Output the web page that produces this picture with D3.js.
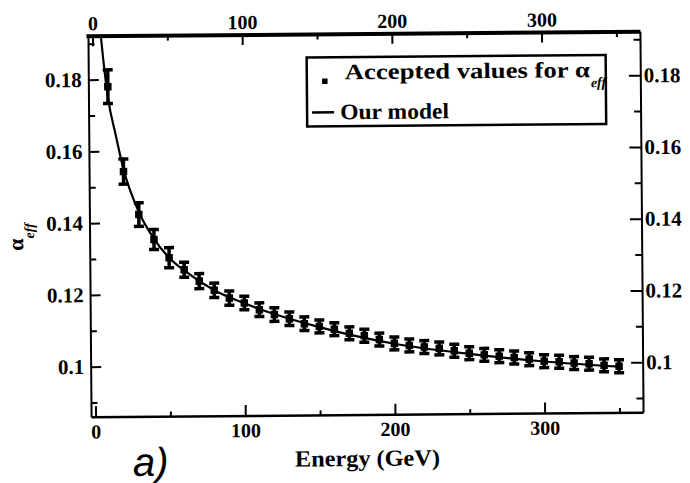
<!DOCTYPE html>
<html>
<head>
<meta charset="utf-8">
<script src="https://cdn.jsdelivr.net/npm/d3@7"></script>
<style>
  body { margin: 0; background: #fff; }
  svg { display: block; }
  .axis line { stroke: #000; stroke-width: 2; }
  .axis path { display: none; }
</style>
</head>
<body>
<script>
// accepted values of alpha_eff
var energy = [10, 20, 30, 40, 50, 60, 70, 80, 90, 100, 110, 120, 130, 140, 150, 160, 170, 180,
              190, 200, 210, 220, 230, 240, 250, 260, 270, 280, 290, 300, 310, 320, 330, 340, 350];
var alphaEff = [0.1780, 0.1543, 0.1423, 0.1353, 0.1302, 0.1268, 0.1236, 0.1210, 0.1188, 0.1174,
                0.1155, 0.1141, 0.1129, 0.1115, 0.1107, 0.1099, 0.1087, 0.1080, 0.1069, 0.1058,
                0.1052, 0.1047, 0.1043, 0.1036, 0.1029, 0.1024, 0.1020, 0.1016, 0.1011, 0.1005,
                0.1003, 0.0999, 0.0997, 0.0992, 0.0989];
var alphaErr = [0.0047, 0.0035, 0.0033, 0.0028, 0.0028, 0.0021, 0.0021, 0.0020, 0.0020, 0.0019,
                0.0019, 0.0019, 0.0019, 0.0019, 0.0018, 0.0018, 0.0018, 0.0018, 0.0018, 0.0018,
                0.0018, 0.0018, 0.0018, 0.0018, 0.0018, 0.0018, 0.0018, 0.0018, 0.0018, 0.0018,
                0.0018, 0.0018, 0.0018, 0.0018, 0.0018];

// model curve
var modelEnergy = [5.5, 7, 10, 15, 20, 30, 40, 50, 60, 80, 100, 150, 200, 250, 300, 350];
var modelAlpha = [0.1925, 0.1860, 0.1750, 0.1645, 0.1550, 0.1430, 0.1355, 0.1302, 0.1266, 0.1210,
                  0.1173, 0.1105, 0.1057, 0.1027, 0.1004, 0.0988];

var xTicks = [0, 100, 200, 300];
var xMinor = [50, 150, 250, 350];
var yTicks = [0.1, 0.12, 0.14, 0.16, 0.18];
var yMinor = [0.09, 0.11, 0.13, 0.15, 0.17, 0.19];

var serif = "'Liberation Serif', 'Times New Roman', serif";

var margin = {top: 34, right: 48, bottom: 68, left: 90},
    width = 690 - margin.left - margin.right,
    height = 483 - margin.top - margin.bottom;

var svg = d3.select("body").append("svg")
    .attr("width", 690)
    .attr("height", 483);

// the scan is slightly tilted
var page = svg.append("g")
    .attr("transform", "rotate(-0.47 366 224)");

var g = page.append("g")
    .attr("transform", "translate(" + margin.left + "," + margin.top + ")");

var x = d3.scaleLinear().domain([-2.67, 366.1]).range([0, width]);
var y = d3.scaleLinear().domain([0.0859, 0.1921]).range([height, 0]);

g.append("clipPath").attr("id", "clip")
  .append("rect").attr("width", width).attr("height", height);

// axes, ticks pointing inward
function styleAxis(sel, size) {
  sel.selectAll("text")
      .style("font-family", serif)
      .style("font-weight", "bold")
      .style("font-size", size + "px")
      .style("fill", "#000");
}
g.append("g").attr("class", "axis")
    .attr("transform", "translate(0," + height + ")")
    .call(d3.axisBottom(x).tickValues(xTicks).tickSize(-11).tickPadding(7).tickFormat(d3.format("d")))
    .call(styleAxis, 20);
g.append("g").attr("class", "axis")
    .attr("transform", "translate(0," + height + ")")
    .call(d3.axisBottom(x).tickValues(xMinor).tickSize(-5).tickFormat(""));
g.append("g").attr("class", "axis")
    .call(d3.axisTop(x).tickValues(xTicks).tickSize(-10).tickPadding(6).tickFormat(d3.format("d")))
    .call(styleAxis, 20);
g.append("g").attr("class", "axis")
    .call(d3.axisTop(x).tickValues(xMinor).tickSize(-5).tickFormat(""));
g.append("g").attr("class", "axis")
    .call(d3.axisLeft(y).tickValues(yTicks).tickSize(-10).tickPadding(7).tickFormat(function(d) { return String(d); }))
    .call(styleAxis, 21);
g.append("g").attr("class", "axis")
    .call(d3.axisLeft(y).tickValues(yMinor).tickSize(-6).tickFormat(""));
g.append("g").attr("class", "axis")
    .attr("transform", "translate(" + width + ",0)")
    .call(d3.axisRight(y).tickValues(yTicks).tickSize(-12).tickPadding(3).tickFormat(function(d) { return String(d); }))
    .call(styleAxis, 21);
g.append("g").attr("class", "axis")
    .attr("transform", "translate(" + width + ",0)")
    .call(d3.axisRight(y).tickValues(yMinor).tickSize(-7).tickFormat(""));

// frame
g.append("line").attr("x1", 0).attr("x2", width).attr("y1", height).attr("y2", height)
    .attr("stroke", "#000").attr("stroke-width", 2.5);
g.append("line").attr("x1", 0).attr("x2", 0).attr("y1", 0).attr("y2", height)
    .attr("stroke", "#000").attr("stroke-width", 2);
g.append("line").attr("x1", width).attr("x2", width).attr("y1", 0).attr("y2", height)
    .attr("stroke", "#000").attr("stroke-width", 2);
g.append("line").attr("x1", -2).attr("x2", width).attr("y1", 0).attr("y2", 0)
    .attr("stroke", "#000").attr("stroke-width", 4);

// model line
var modelData = modelEnergy.map(function(e, i) { return {e: e, v: modelAlpha[i]}; });
g.append("path")
    .datum(modelData)
    .attr("clip-path", "url(#clip)")
    .attr("fill", "none")
    .attr("stroke", "#000")
    .attr("stroke-width", 2.2)
    .attr("d", d3.line()
        .curve(d3.curveMonotoneX)
        .x(function(d) { return x(d.e); })
        .y(function(d) { return y(d.v); }));

// data points with error bars
var pts = energy.map(function(e, i) { return {e: e, v: alphaEff[i], err: alphaErr[i]}; });
var pt = g.append("g").selectAll(".pt")
    .data(pts)
  .enter().append("g")
    .attr("class", "pt");
pt.append("line")
    .attr("x1", function(d) { return x(d.e); })
    .attr("x2", function(d) { return x(d.e); })
    .attr("y1", function(d) { return y(d.v - d.err); })
    .attr("y2", function(d) { return y(d.v + d.err); })
    .attr("stroke", "#000").attr("stroke-width", 3.5);
[-1, 1].forEach(function(s) {
  pt.append("line")
      .attr("x1", function(d) { return x(d.e) - 5; })
      .attr("x2", function(d) { return x(d.e) + 5; })
      .attr("y1", function(d) { return y(d.v + s * d.err); })
      .attr("y2", function(d) { return y(d.v + s * d.err); })
      .attr("stroke", "#000").attr("stroke-width", 3.5);
});
pt.append("path")
    .attr("transform", function(d) { return "translate(" + x(d.e) + "," + y(d.v) + ")"; })
    .attr("d", d3.symbol().type(d3.symbolSquare).size(56))
    .attr("fill", "#000");

// legend
var legend = page.append("g");
legend.append("rect")
    .attr("x", 308).attr("y", 57).attr("width", 299).attr("height", 69)
    .attr("fill", "#fff").attr("stroke", "#000").attr("stroke-width", 2.5);
legend.append("path")
    .attr("transform", "translate(326,81)")
    .attr("d", d3.symbol().type(d3.symbolSquare).size(30))
    .attr("fill", "#000");
legend.append("line")
    .attr("x1", 313).attr("x2", 335).attr("y1", 112).attr("y2", 112)
    .attr("stroke", "#000").attr("stroke-width", 2.5);
legend.append("text")
    .attr("x", 346).attr("y", 79)
    .style("font-family", serif).style("font-weight", "bold").style("font-size", "22px")
    .attr("textLength", 245).attr("lengthAdjust", "spacingAndGlyphs")
    .text("Accepted values for \u03b1");
legend.append("text")
    .attr("x", 592).attr("y", 89)
    .style("font-family", serif).style("font-weight", "bold").style("font-size", "14px")
    .style("font-style", "italic")
    .text("eff");
legend.append("text")
    .attr("x", 341).attr("y", 119)
    .style("font-family", serif).style("font-weight", "bold").style("font-size", "22px")
    .attr("textLength", 109).attr("lengthAdjust", "spacingAndGlyphs")
    .text("Our model");

// axis titles
page.append("text")
    .attr("x", 293).attr("y", 466)
    .style("font-family", serif).style("font-weight", "bold").style("font-size", "23px")
    .attr("textLength", 145).attr("lengthAdjust", "spacingAndGlyphs")
    .text("Energy (GeV)");

var yt = page.append("text")
    .attr("transform", "translate(23,248) rotate(-90)")
    .style("font-family", serif).style("font-weight", "bold").style("font-size", "22px")
    .text("\u03b1");
yt.append("tspan")
    .attr("dy", 11)
    .style("font-size", "14px")
    .style("font-style", "italic")
    .text("eff");

// panel label
page.append("text")
    .attr("x", 131).attr("y", 474)
    .style("font-family", "'Liberation Sans', Arial, sans-serif")
    .style("font-style", "italic")
    .style("font-size", "40px")
    .text("a)");
</script>
</body>
</html>
